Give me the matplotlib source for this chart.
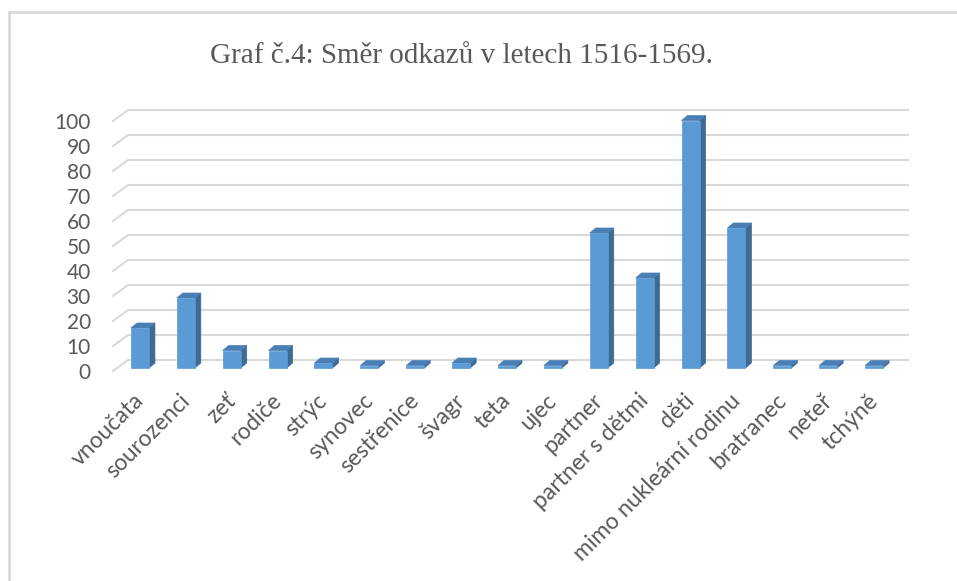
import matplotlib.pyplot as plt
from matplotlib.patches import Polygon
from matplotlib.lines import Line2D
from matplotlib.transforms import ScaledTranslation

categories = ["vnoučata", "sourozenci", "zeť", "rodiče", "strýc", "synovec",
              "sestřenice", "švagr", "teta", "ujec", "partner", "partner s dětmi",
              "děti", "mimo nukleární rodinu", "bratranec", "neteř", "tchýně"]
values = [16, 28, 7, 7, 2, 1, 1, 2, 1, 1, 54, 36, 99, 56, 1, 1, 1]
yticks = list(range(0, 101, 10))
title = "Graf č.4: Směr odkazů v letech 1516-1569."

FRONT = "#5B9BD5"
SIDE = "#3E6A94"
TOP = "#4A7FB5"
GRID = "#D9D9D9"
TEXT = "#595959"

plt.rcParams['font.family'] = ['Lato', 'DejaVu Sans']

fig = plt.figure(figsize=(9.57, 5.81), dpi=100)
ax = fig.add_axes([113 / 957, 210 / 581, 780 / 957, 250 / 581])
n = len(categories)
ax.set_xlim(-0.5, n - 0.5)
ax.set_ylim(0, 100)

# pixel -> data conversions (45.9 px per category, 2.5 px per unit)
px_x = 1 / 45.9
px_y = 1 / 2.5

# back wall depth offset
wall_dx, wall_dy = 15 * px_x, 11 * px_y
for t in yticks:
    ax.add_line(Line2D([-0.5, -0.5 + wall_dx, n - 0.5 + wall_dx],
                       [t, t + wall_dy, t + wall_dy],
                       color=GRID, lw=1.5, clip_on=False, zorder=1))

# bars (pseudo 3D like Excel)
shift_x, shift_y = 4 * px_x, 1.2
half_w = 9 * px_x
dep_x, dep_y = 6 * px_x, 5 * px_y
for i, v in enumerate(values):
    x0 = i + shift_x - half_w
    x1 = i + shift_x + half_w
    y0 = shift_y
    y1 = shift_y + v
    front = [(x0, y0), (x1, y0), (x1, y1), (x0, y1)]
    side = [(x1, y0), (x1 + dep_x, y0 + dep_y), (x1 + dep_x, y1 + dep_y), (x1, y1)]
    top = [(x0, y1), (x1, y1), (x1 + dep_x, y1 + dep_y), (x0 + dep_x, y1 + dep_y)]
    for pts, c in ((side, SIDE), (top, TOP), (front, FRONT)):
        ax.add_patch(Polygon(pts, closed=True, facecolor=c, edgecolor=c,
                             lw=0.5, clip_on=False, zorder=3))

for s in ax.spines.values():
    s.set_visible(False)
ax.set_yticks(yticks)
ax.set_yticklabels([str(t) for t in yticks], fontsize=15, color=TEXT)
ax.tick_params(axis='both', length=0)
ax.tick_params(axis='y', pad=16)

# category labels, rotated 45 degrees, right end at the category
ax.set_xticks([])
lab_off = ScaledTranslation(-3 / 100, -19 / 100, fig.dpi_scale_trans)
for i, lab in enumerate(categories):
    ax.text(i, 0, lab, rotation=45, ha='right', va='top', rotation_mode='anchor',
            fontsize=16.5, color=TEXT, transform=ax.transData + lab_off)

fig.text(461 / 957, 1 - 63 / 581, title, ha='center', va='baseline',
         fontsize=21, color=TEXT, family='Liberation Serif')

# chart border (only left and top visible in the crop)
fig.add_artist(Line2D([8.5 / 957, 8.5 / 957], [0, 1 - 12 / 581],
                      color=GRID, lw=2, transform=fig.transFigure))
fig.add_artist(Line2D([8.5 / 957, 1], [1 - 12 / 581, 1 - 12 / 581],
                      color=GRID, lw=2, transform=fig.transFigure))

fig.savefig("out.png", dpi=100)
